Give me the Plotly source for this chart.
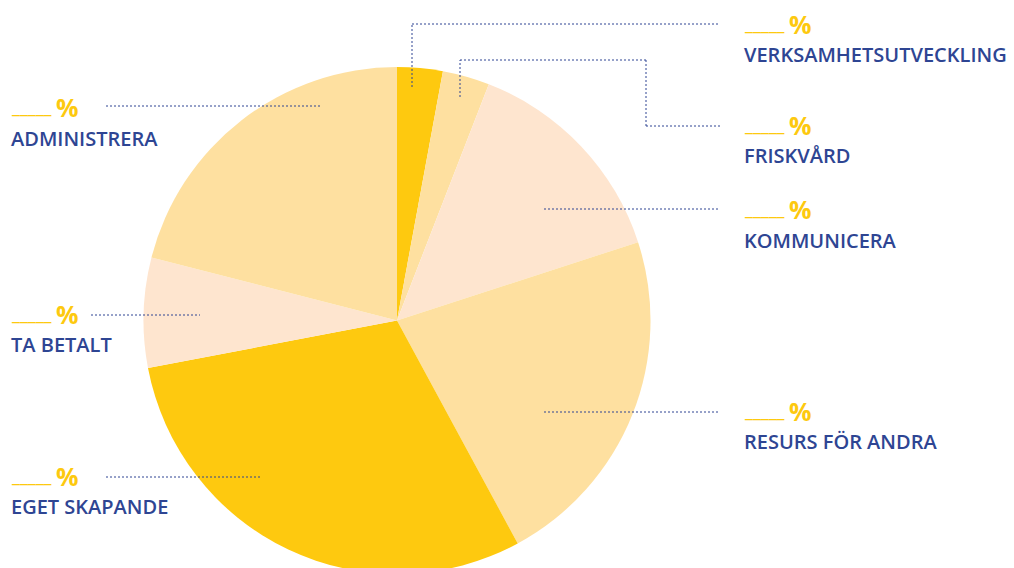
import plotly.graph_objects as go

W, H = 1014, 574

categories = ["VERKSAMHETSUTVECKLING", "FRISKVÅRD", "KOMMUNICERA",
              "RESURS FÖR ANDRA", "EGET SKAPANDE", "TA BETALT", "ADMINISTRERA"]
values = [2.9, 3.0, 14.1, 22.1, 29.9, 7.0, 21.0]
slice_colors = ["#FEC90F", "#FEE0A0", "#FEE5CF", "#FEE0A0", "#FEC90F", "#FEE5CF", "#FEE0A0"]

BLUE = "#2E4593"
YEL = "#FDC90F"
FONT = "Open Sans"


def px(x):
    return x / W


def py(y):
    return 1 - y / H


fig = go.Figure(go.Pie(
    labels=categories, values=values, sort=False, direction="clockwise",
    rotation=0, marker=dict(colors=slice_colors, line=dict(width=0)),
    textinfo="none", hoverinfo="label+percent", showlegend=False,
    domain=dict(x=[px(397 - 254), px(397 + 254)], y=[0, py(67)]),
))

# label placements (left x, y of % centre, y of name centre)
label_pos = {
    "VERKSAMHETSUTVECKLING": (744, 24, 55),
    "FRISKVÅRD": (744, 125, 155),
    "KOMMUNICERA": (744, 209, 240),
    "RESURS FÖR ANDRA": (744, 411, 441),
    "ADMINISTRERA": (11, 107, 138),
    "TA BETALT": (11, 314, 345),
    "EGET SKAPANDE": (11, 476, 506),
}

ann = []
for name in categories:
    x0, yp, yn = label_pos[name]
    ann.append(dict(x=px(x0 - 2), y=py(yp - 1), xref="paper", yref="paper",
                    text="_____", showarrow=False, xanchor="left", yanchor="middle",
                    font=dict(family=FONT, size=18, color=YEL)))
    ann.append(dict(x=px(x0 + 43), y=py(yp), xref="paper", yref="paper",
                    text="<b>%</b>", showarrow=False, xanchor="left", yanchor="middle",
                    font=dict(family=FONT, size=25, color=YEL)))
    ann.append(dict(x=px(x0 - 2), y=py(yn), xref="paper", yref="paper",
                    text=name, showarrow=False, xanchor="left", yanchor="middle",
                    font=dict(family=FONT, size=20, color=BLUE, weight=600)))

leaders = [
    [(412, 87), (412, 24), (720, 24)],
    [(460, 97), (460, 60), (646, 60), (646, 126), (720, 126)],
    [(106, 106), (321, 106)],
    [(91, 315), (200, 315)],
    [(106, 477), (261, 477)],
    [(544, 209), (720, 209)],
    [(544, 412), (720, 412)],
]
shapes = []
for pts in leaders:
    for (xa, ya), (xb, yb) in zip(pts[:-1], pts[1:]):
        shapes.append(dict(type="line", xref="paper", yref="paper",
                           x0=px(xa), y0=py(ya), x1=px(xb), y1=py(yb),
                           line=dict(color=BLUE, width=1, dash="2px,2px")))

fig.update_layout(
    width=W, height=H, margin=dict(l=0, r=0, t=0, b=0),
    paper_bgcolor="white", plot_bgcolor="white",
    annotations=ann, shapes=shapes,
)

fig.write_html("out.html", post_script="document.documentElement.style.overflow='hidden';document.body.style.overflow='hidden';document.body.style.margin='0';")
